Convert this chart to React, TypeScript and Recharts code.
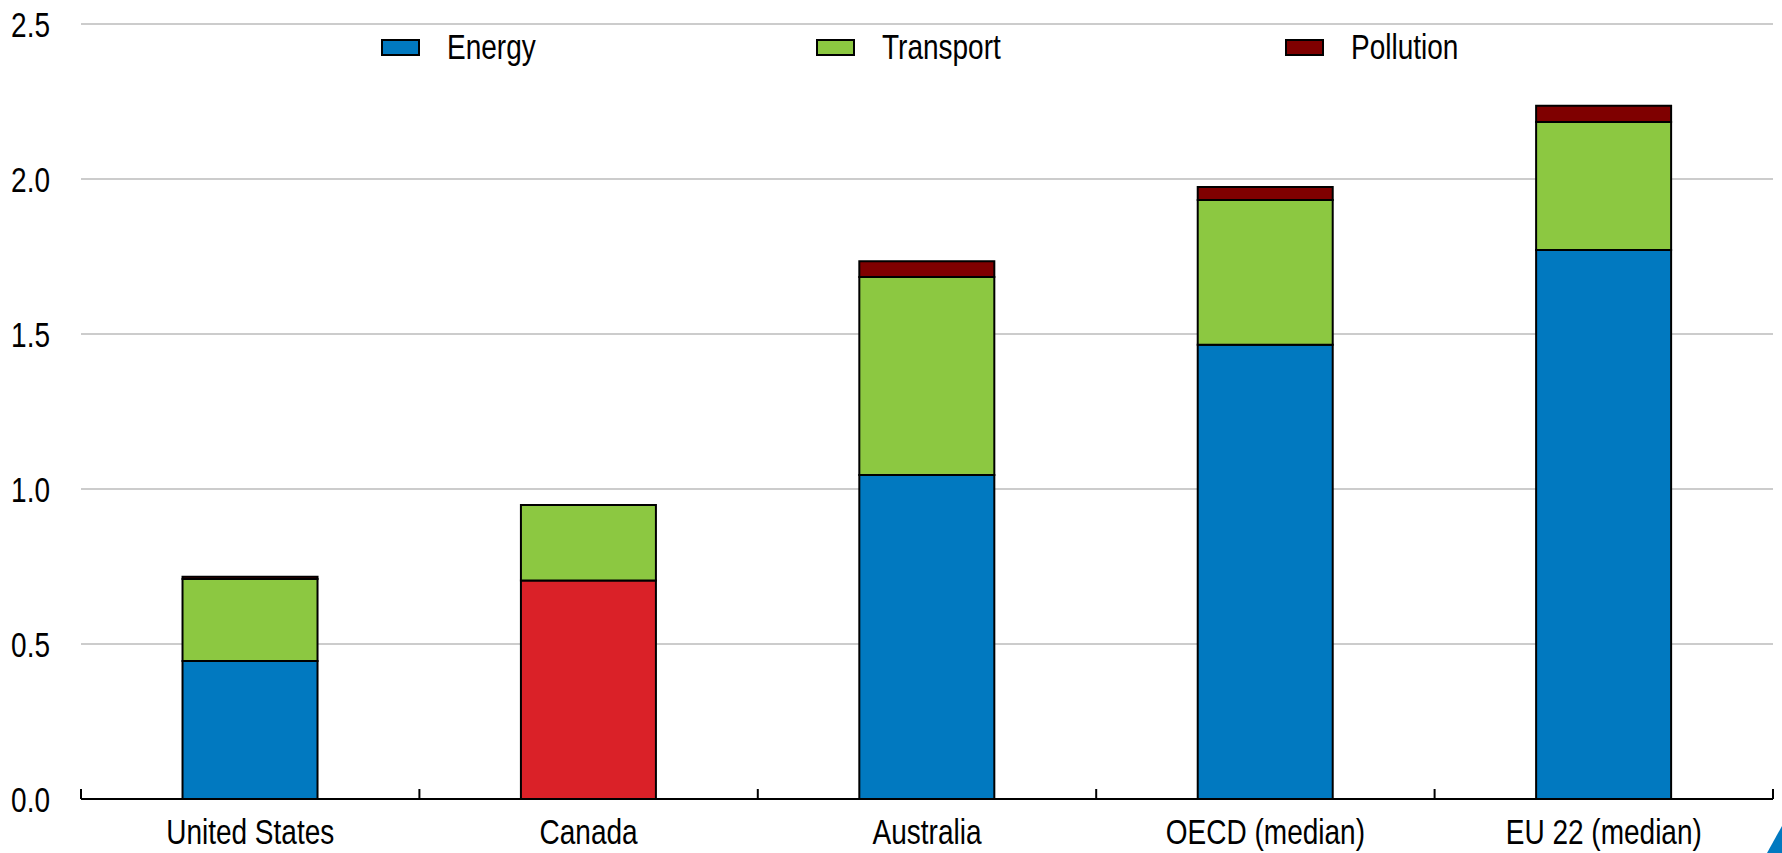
import React from "react";
import { BarChart, Bar, XAxis, YAxis, CartesianGrid, Legend, Cell } from "recharts";

const categories = ["United States", "Canada", "Australia", "OECD (median)", "EU 22 (median)"];
const energy = [0.445, 0.705, 1.045, 1.465, 1.771];
const transport = [0.265, 0.243, 0.639, 0.467, 0.413];
const pollution = [0.007, 0, 0.051, 0.042, 0.052];
const yTicks = [0, 0.5, 1.0, 1.5, 2.0, 2.5];
const seriesNames = ["Energy", "Transport", "Pollution"];
const highlightCategory = "Canada";

const COLORS = { energy: "#0179C0", transport: "#8CC841", pollution: "#7F0000", highlight: "#DA2128" };
const FONT = "'Liberation Sans', Arial, sans-serif";
const NARROW = 0.8;
const FS = 35;
const legendItemWidths = [435, 469, undefined];

const data = categories.map((c, i) => ({
  name: c,
  energy: energy[i],
  transport: transport[i],
  pollution: pollution[i],
}));

const LegendContent = (props: any) => {
  const payload = [...(props.payload || [])].sort(
    (a: any, b: any) => seriesNames.indexOf(a.value) - seriesNames.indexOf(b.value)
  );
  return (
    <div style={{ display: "flex", alignItems: "center", fontFamily: FONT, fontSize: FS, color: "#000" }}>
      {payload.map((p: any, i: number) => (
        <div key={p.value} style={{ display: "flex", alignItems: "center", width: legendItemWidths[i], flex: "none" }}>
          <div style={{ width: 39, height: 17, background: p.color, border: "2px solid #000", boxSizing: "border-box", marginRight: 27, flex: "none" }} />
          <span style={{ display: "inline-block", lineHeight: "34px", transform: `scaleX(${NARROW})`, transformOrigin: "left center", whiteSpace: "nowrap" }}>{p.value}</span>
        </div>
      ))}
    </div>
  );
};

const XTick = (props: any) => {
  const { x, y, payload, index } = props;
  const half = payload && payload.offset != null ? payload.offset : 0;
  const isLast = index === categories.length - 1;
  return (
    <g>
      <line x1={x - half} x2={x - half} y1={y - 10} y2={y} stroke="#000" strokeWidth={2} />
      {isLast && <line x1={x + half} x2={x + half} y1={y - 10} y2={y} stroke="#000" strokeWidth={2} />}
      <text
        transform={`translate(${x},${y + 45}) scale(${NARROW},1)`}
        textAnchor="middle"
        fill="#000"
        fontSize={FS}
        fontFamily={FONT}
      >
        {payload.value}
      </text>
    </g>
  );
};

const YTick = (props: any) => {
  const { x, y, payload } = props;
  return (
    <text
      transform={`translate(${x},${y}) scale(${NARROW},1)`}
      textAnchor="end"
      dy="0.36em"
      fill="#000"
      fontSize={FS}
      fontFamily={FONT}
    >
      {Number(payload.value).toFixed(1)}
    </text>
  );
};

export default function App() {
  return (
    <div style={{ position: "absolute", left: 0, top: 0, width: 1782, height: 853, background: "#fff" }}>
      <BarChart
        width={1782}
        height={853}
        data={data}
        margin={{ top: 24, right: 9, left: 0, bottom: 0 }}
        barCategoryGap="30%"
      >
        <CartesianGrid vertical={false} stroke="#CCCCCC" strokeWidth={2} />
        <XAxis
          dataKey="name"
          height={54}
          axisLine={{ stroke: "#000", strokeWidth: 2 }}
          tickLine={false}
          tickSize={0}
          tickMargin={0}
          interval={0}
          tick={<XTick />}
        />
        <YAxis
          domain={[0, 2.5]}
          ticks={yTicks}
          width={81}
          axisLine={false}
          tickLine={false}
          tickSize={0}
          tickMargin={31}
          tick={<YTick />}
        />
        <Legend
          layout="horizontal"
          verticalAlign="middle"
          align="center"
          wrapperStyle={{ top: 30, left: 381, width: "auto" }}
          content={<LegendContent />}
        />
        <Bar dataKey="energy" name={seriesNames[0]} stackId="a" fill={COLORS.energy} stroke="#000" strokeWidth={2} isAnimationActive={false}>
          {data.map((d) => (
            <Cell key={d.name} fill={d.name === highlightCategory ? COLORS.highlight : COLORS.energy} />
          ))}
        </Bar>
        <Bar dataKey="transport" name={seriesNames[1]} stackId="a" fill={COLORS.transport} stroke="#000" strokeWidth={2} isAnimationActive={false} />
        <Bar dataKey="pollution" name={seriesNames[2]} stackId="a" fill={COLORS.pollution} stroke="#000" strokeWidth={2} isAnimationActive={false} />
      </BarChart>
      <svg width={16} height={27} style={{ position: "absolute", right: 0, bottom: 0 }}>
        <polygon points="16,0 16,27 1,27" fill="#0179C0" />
      </svg>
    </div>
  );
}
